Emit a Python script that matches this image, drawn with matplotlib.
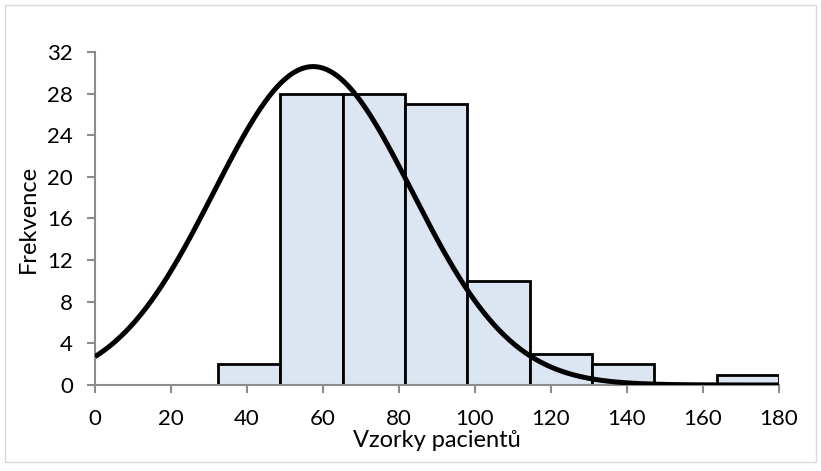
import numpy as np
import matplotlib.pyplot as plt
from matplotlib.patches import Rectangle

plt.rcParams['font.family'] = ['Lato', 'DejaVu Sans']

# histogram bins (left edges) and counts
bin_edges = [32.4, 48.8, 65.2, 81.6, 98.0, 114.4, 130.8, 147.2, 163.6, 180.0]
counts = [2, 28, 28, 27, 10, 3, 2, 0, 1]

# fitted normal curve parameters
curve_mean = 57.4
curve_sd = 26.1
curve_peak = 30.6

yticks = [0, 4, 8, 12, 16, 20, 24, 28, 32]
xticks = [0, 20, 40, 60, 80, 100, 120, 140, 160, 180]

fig = plt.figure(figsize=(8.21, 4.71), dpi=100)
ax = fig.add_axes([0.1157, 0.1826, 0.8331, 0.707])

widths = np.diff(bin_edges)
ax.bar(bin_edges[:-1], counts, width=widths, align='edge',
       color='#dce6f2', edgecolor='black', linewidth=2.0, zorder=2)

xs = np.linspace(0, 180, 400)
ys = curve_peak * np.exp(-(xs - curve_mean) ** 2 / (2 * curve_sd ** 2))
ax.plot(xs, ys, color='black', linewidth=3.6, zorder=3, solid_capstyle='butt')

ax.set_xlim(0, 180)
ax.set_ylim(0, 32)
ax.set_xticks(xticks)
ax.set_yticks(yticks)

for s in ['top', 'right']:
    ax.spines[s].set_visible(False)
for s in ['left', 'bottom']:
    ax.spines[s].set_color('#8c8c8c')
    ax.spines[s].set_linewidth(1.5)
ax.tick_params(axis='both', direction='out', length=6, width=1.5,
               color='#8c8c8c', labelsize=16, labelcolor='black')
ax.tick_params(axis='x', pad=11)
ax.tick_params(axis='y', pad=10)

ax.set_xlabel('Vzorky pacientů', fontsize=17, labelpad=1)
ax.set_ylabel('Frekvence', fontsize=17, labelpad=6)

# light chart border
fig.patches.append(Rectangle((0.006, 0.02), 0.988, 0.97, transform=fig.transFigure,
                             fill=False, edgecolor='#d9d9d9', linewidth=1.0))

fig.savefig('out.png', dpi=100)
